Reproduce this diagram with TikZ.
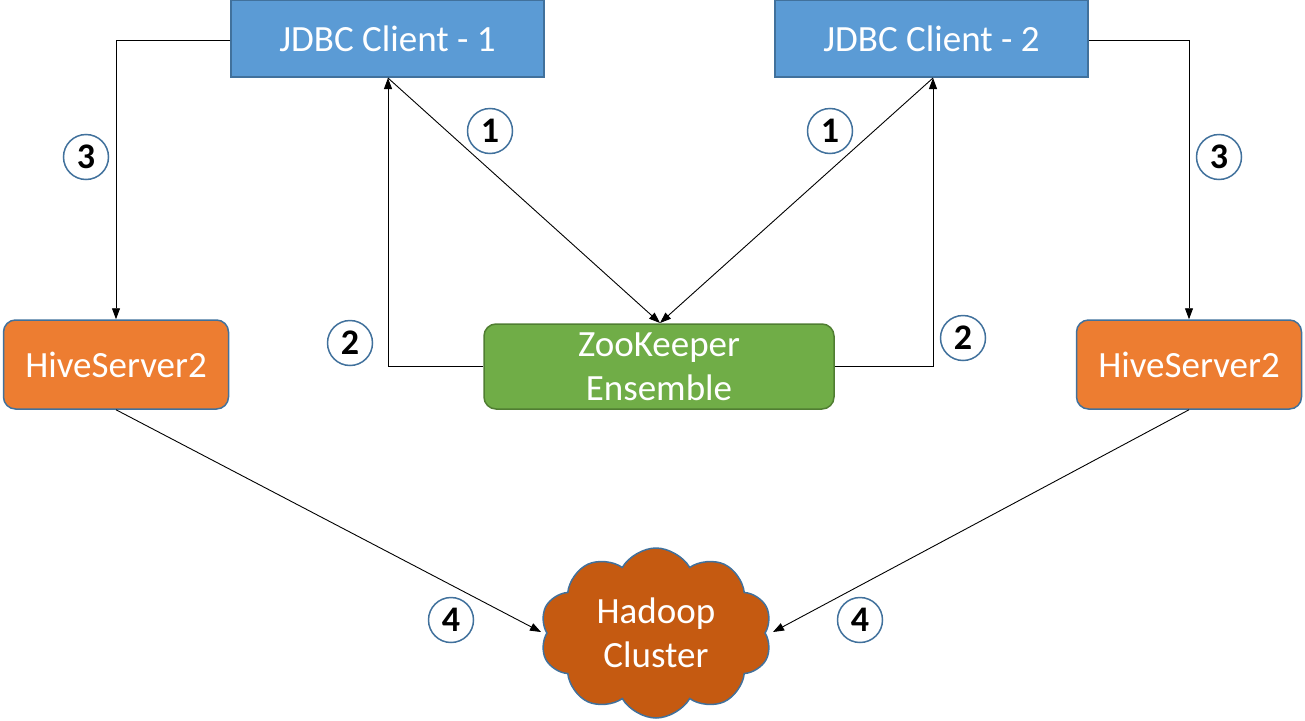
\documentclass[tikz,border=0pt]{standalone}
\usepackage{fontspec}
\setmainfont{Carlito}
\usetikzlibrary{shapes.symbols,arrows.meta}
\definecolor{bluefill}{HTML}{5B9BD5}
\definecolor{blueline}{HTML}{41719C}
\definecolor{orangefill}{HTML}{ED7D31}
\definecolor{greenfill}{HTML}{70AD47}
\definecolor{greenline}{HTML}{507E32}
\definecolor{cloudfill}{HTML}{C55A11}
\tikzset{
  box/.style={draw=blueline, line width=1.5pt, text=white, font=\fontsize{37}{44}\selectfont, align=center, inner sep=0pt},
  client/.style={box, fill=bluefill, minimum width=313pt, minimum height=77pt},
  hive/.style={box, fill=orangefill, rounded corners=12pt, minimum width=225pt, minimum height=89pt},
  zk/.style={box, fill=greenfill, draw=greenline, rounded corners=12pt, minimum width=350pt, minimum height=85pt},
  cloudnode/.style={box, cloud, cloud puffs=10, cloud puff arc=120, aspect=1.35, fill=cloudfill, minimum width=232pt, minimum height=170pt},
  num/.style={circle, draw=blueline, line width=1.5pt, fill=white, minimum size=45pt, inner sep=0pt, font=\bfseries\fontsize{36}{38}\selectfont},
  conn/.style={line width=0.9pt, -{Triangle[width=8pt,length=11pt]}},
}
\begin{document}
\begin{tikzpicture}[x=1pt,y=-1pt]
\useasboundingbox (0,0) rectangle (1305,720);
\node[client] (c1) at (387.5,38.5) {JDBC Client - 1};
\node[client] (c2) at (931.5,38.5) {JDBC Client - 2};
\node[hive] (h1) at (116,364.5) {HiveServer2};
\node[hive] (h2) at (1189,364.5) {HiveServer2};
\node[zk] (zk) at (659,366.5) {ZooKeeper\\Ensemble};
\node[cloudnode] (hc) at (656,633) {Hadoop\\Cluster};
\coordinate (c1b) at (388,78);
\coordinate (c2b) at (933,78);
\coordinate (zkt) at (660,323);
\coordinate (hcl) at (541,632);
\coordinate (hcr) at (773,632);
\draw[conn] (c1.west |- 0,40) -| (h1.north);
\draw[conn] (c2.east |- 0,40) -| (h2.north);
\draw[conn] (zk.west) -| (c1b);
\draw[conn] (zk.east) -| (c2b);
\draw[conn] (c1b) -- (zkt);
\draw[conn] (c2b) -- (zkt);
\draw[conn] (h1.south) -- (hcl);
\draw[conn] (h2.south) -- (hcr);
\node[num] (n1a) at (490,131) {1};
\node[num] (n1b) at (830,131) {1};
\node[num] (n3a) at (86,157) {3};
\node[num] (n3b) at (1219,157) {3};
\node[num] (n2a) at (350,343) {2};
\node[num] (n2b) at (963,338) {2};
\node[num] (n4a) at (451,620) {4};
\node[num] (n4b) at (860,620) {4};
\end{tikzpicture}
\end{document}
